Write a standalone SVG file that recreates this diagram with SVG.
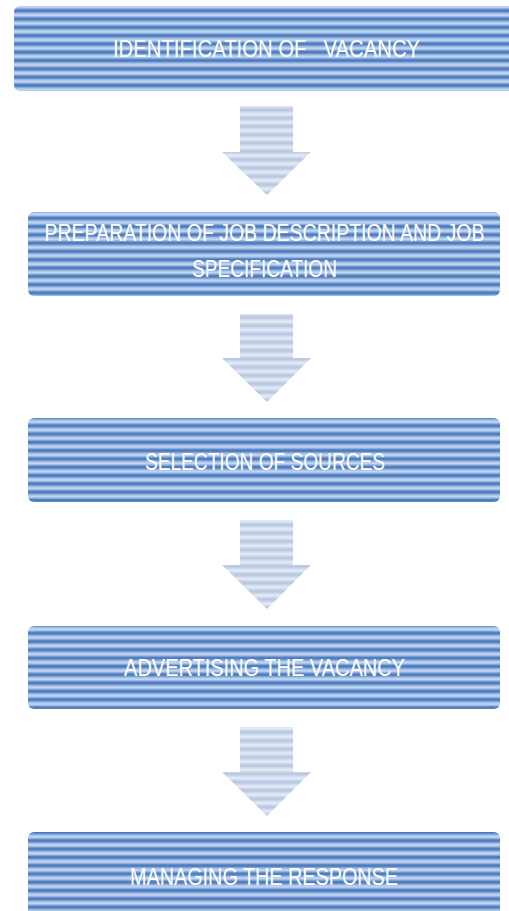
<svg xmlns="http://www.w3.org/2000/svg" width="509" height="911" viewBox="0 0 509 911">
<style>
.box{fill:url(#stripes)}
.arrow{fill:url(#astripes)}
.lbl{font-family:"Liberation Sans",Arial,sans-serif;font-size:24px;fill:#ffffff;text-anchor:middle}
</style>
<defs>
<linearGradient id="sg" x1="0" y1="0" x2="0" y2="1">
<stop offset="0" stop-color="#4372b5"/>
<stop offset="0.15" stop-color="#5583c4"/>
<stop offset="0.4" stop-color="#a6c2e9"/>
<stop offset="0.6" stop-color="#c8dbf3"/>
<stop offset="0.8" stop-color="#8aacde"/>
<stop offset="1" stop-color="#4372b5"/>
</linearGradient>
<pattern id="stripes" patternUnits="userSpaceOnUse" x="0" y="2" width="509" height="8.3">
<rect width="509" height="8.3" fill="url(#sg)"/>
</pattern>
<linearGradient id="ag" x1="0" y1="0" x2="0" y2="1">
<stop offset="0" stop-color="#b3c4e1"/>
<stop offset="0.5" stop-color="#e6ecf6"/>
<stop offset="1" stop-color="#b3c4e1"/>
</linearGradient>
<pattern id="astripes" patternUnits="userSpaceOnUse" x="0" y="2" width="509" height="8.3">
<rect width="509" height="8.3" fill="url(#ag)"/>
</pattern>
</defs>
<g id="connectors">
<polygon class="arrow" points="240,106 293,106 293,152 311,152 267,195 222,152 240,152"/>
<polygon class="arrow" points="240,314 293,314 293,358 311,358 267,402 222,358 240,358"/>
<polygon class="arrow" points="240,520 293,520 293,565 311,565 267,609 222,565 240,565"/>
<polygon class="arrow" points="240,727 293,727 293,772 311,772 267,816 222,772 240,772"/>
</g>
<g id="node1">
<rect class="box" x="14" y="6" width="505" height="85" rx="6"/>
<text class="lbl" transform="translate(266.5,57) scale(0.8,1)" x="0" y="0" textLength="384" lengthAdjust="spacingAndGlyphs" xml:space="preserve">IDENTIFICATION OF   VACANCY</text>
</g>
<g id="node2">
<rect class="box" x="28" y="212" width="472" height="84" rx="6"/>
<text class="lbl" transform="translate(264.5,241) scale(0.78,1)" x="0" y="0" textLength="564" lengthAdjust="spacingAndGlyphs">PREPARATION OF JOB DESCRIPTION AND JOB</text>
<text class="lbl" transform="translate(264.5,277) scale(0.8,1)" x="0" y="0" textLength="181" lengthAdjust="spacingAndGlyphs">SPECIFICATION</text>
</g>
<g id="node3">
<rect class="box" x="28" y="418" width="472" height="84" rx="6"/>
<text class="lbl" transform="translate(265,470) scale(0.8,1)" x="0" y="0" textLength="300" lengthAdjust="spacingAndGlyphs">SELECTION OF SOURCES</text>
</g>
<g id="node4">
<rect class="box" x="28" y="626" width="472" height="83" rx="6"/>
<text class="lbl" transform="translate(264.5,676) scale(0.8,1)" x="0" y="0" textLength="351" lengthAdjust="spacingAndGlyphs">ADVERTISING THE VACANCY</text>
</g>
<g id="node5">
<rect class="box" x="28" y="832" width="472" height="90" rx="6"/>
<text class="lbl" transform="translate(264,885) scale(0.8,1)" x="0" y="0" textLength="335" lengthAdjust="spacingAndGlyphs">MANAGING THE RESPONSE</text>
</g>
</svg>
